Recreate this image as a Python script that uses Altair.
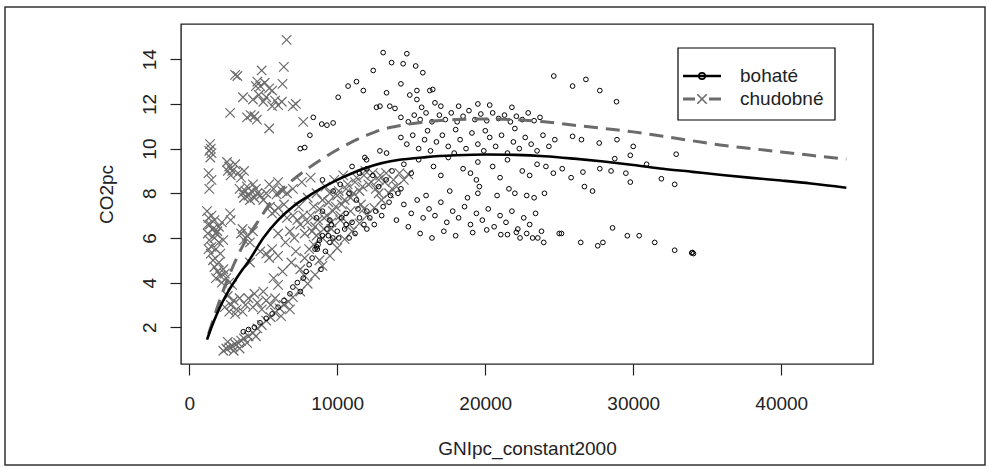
import altair as alt
import pandas as pd

# ---------------- data ----------------
# chudobné (poor) observations: GNI per capita, CO2 per capita
poor_x = [6575, 6390, 3100, 3250, 4890, 4600, 4800, 5100, 5400, 4700, 5200, 5600, 5800, 6000, 5600, 6250, 3630, 2760, 3900, 4150,
          4400, 4570, 5400, 7000, 7200, 7700, 4500, 5000, 6300, 4300,
          1400, 1450, 1350, 1500, 1420, 1300, 1350, 1500,
          2550, 2700, 2900, 3100, 3300, 3500, 2800, 3700, 2600,
          3400, 3600, 3800, 4000, 4200, 4400, 4600, 4800, 5000, 5200, 3900, 4300, 4100, 3700, 4500,
          5400, 5700, 6000, 6300, 6600, 5900, 5450, 5800, 6000, 5600,
          1200, 1300, 1400, 1500, 1600, 1250, 1350, 1500, 1700, 1800, 1900, 2000, 2100, 2200, 1450, 1600, 1250, 1700, 1800, 2000,
          1300, 2300, 2750, 2800,
          3500, 3700, 3900, 4100, 3600, 4300,
          1700, 1900, 2100, 2300, 2500, 2700, 2900, 2000, 2400, 1800, 2200, 4100,
          4800, 5200, 5600, 6000, 5400, 5700, 6000,
          2600, 2800, 3000, 3200, 3400, 3600, 3800, 3100, 2700, 2400,
          4000, 4300, 4600, 4900, 5200, 5500, 5800, 4400, 5000,
          2300, 2500, 2700, 2900, 3100, 3300, 3500, 3700, 4000, 4300, 4600, 4900, 5200, 5500, 5800, 6100, 6400, 6700, 7000,
          2600, 3000, 3400, 3900, 4500, 6200, 6800,
          7500, 8000, 8500, 9000, 9500, 10000, 10500, 11000, 11500, 12000, 12500, 13000, 13500, 14000, 14500, 14800,
          7800, 8800, 9800, 10800, 11800, 12800, 13800,
          6500, 6800, 7100, 7500, 7800, 8200, 8500, 8800, 9100, 9400, 9700, 10000, 10300, 10600, 10900, 11200, 11500, 11800,
          12100, 12400, 12800, 7000, 7400, 8000, 8600, 9200, 9800, 10400, 6600, 7200, 7800, 8400, 9000, 9600, 10200,
          6300, 6900, 7500, 8100, 6000, 6400, 7000, 7600, 8200,
          8300, 8700, 9300, 9900, 10500, 11100, 11700, 12300, 12900, 13300, 8000, 9500, 10100, 10700, 11300, 11900,
          9000, 8400, 7700, 7300, 12600, 13200, 13700, 14200, 11600, 10900, 10200, 9600, 9100, 8600]
poor_y = [14.87, 13.66, 13.3, 13.25, 13.5, 13.0, 12.8, 12.95, 12.7, 12.4, 12.3, 12.6, 12.15, 11.95, 11.9, 12.1, 12.3, 11.6, 11.4, 11.5,
          11.45, 11.3, 10.9, 11.9, 12.0, 11.2, 12.8, 12.1, 12.9, 12.2,
          10.2, 10.0, 9.9, 9.8, 9.6, 8.9, 8.2, 8.6,
          9.4, 9.2, 9.0, 9.3, 8.9, 8.7, 8.8, 9.0, 9.0,
          8.2, 8.0, 8.1, 7.9, 8.1, 7.8, 8.0, 7.9, 7.7, 8.0, 8.3, 8.4, 7.7, 7.8, 8.2,
          8.4, 8.2, 8.5, 8.1, 8.0, 7.95, 7.4, 7.2, 7.35, 7.1,
          7.2, 6.9, 6.6, 7.0, 6.4, 6.2, 5.9, 5.6, 6.0, 5.5, 6.3, 5.8, 5.3, 6.7, 5.3, 5.0, 6.6, 6.8, 6.2, 6.5,
          5.5, 5.9, 7.1, 6.8,
          6.2, 5.9, 6.1, 5.8, 6.4, 6.3,
          4.7, 4.5, 4.3, 4.6, 4.2, 4.0, 3.9, 4.9, 4.4, 4.2, 4.0, 4.9,
          5.4, 5.3, 5.5, 5.2, 5.1, 4.2, 3.9,
          3.4, 3.0, 3.2, 2.8, 3.3, 2.7, 3.0, 2.6, 2.7, 2.9,
          3.3, 2.9, 3.1, 2.8, 3.2, 3.0, 3.3, 3.5, 3.6,
          0.95, 1.05, 1.1, 1.15, 1.25, 1.3, 1.4, 1.5, 1.6, 1.75, 1.95, 2.1, 2.3, 2.45, 2.65, 2.85, 3.0, 3.15, 3.35,
          1.35, 0.95, 1.05, 1.3, 1.6, 2.5, 2.8,
          3.6, 3.95, 4.35, 4.75, 5.2, 5.55, 5.95, 6.3, 6.65, 7.0, 7.35, 7.7, 8.0, 8.3, 8.6, 8.85,
          4.3, 5.0, 5.9, 6.6, 7.3, 8.0, 8.6,
          5.8, 6.3, 6.0, 6.6, 6.2, 7.0, 6.5, 7.3, 6.9, 7.6, 7.2, 7.9, 7.5, 8.2, 7.8, 8.5, 8.1, 8.8,
          8.4, 8.9, 8.6, 7.0, 7.4, 7.8, 8.0, 8.3, 8.6, 8.8, 6.9, 5.4, 5.1, 5.7, 6.0, 6.4, 6.8,
          4.5, 4.9, 4.6, 5.5, 6.2, 7.5, 8.2, 8.5, 8.7,
          6.3, 6.8, 7.0, 7.4, 7.7, 8.0, 8.3, 8.5, 8.8, 8.9, 6.7, 8.0, 8.1, 8.4, 8.7, 9.0,
          7.7, 7.4, 7.0, 6.8, 8.2, 8.5, 8.2, 8.9, 7.5, 7.2, 7.0, 6.7, 6.4, 6.1]

# bohaté (rich) observations
rich_x = [13100, 13670, 12430, 11300, 10730, 10060, 11760, 13330, 12650, 12880, 13550, 13900, 8380, 8950, 9300, 9720, 8150, 7500,
          7800, 11980, 12880, 13330,
          14700, 14450, 15300, 15780, 24630, 26800, 25900, 27740, 28870, 16250, 16450, 15380, 15380, 14900, 14300,
          14300, 14800, 15200, 15600, 16000, 16400, 16900, 17300, 17700, 18100, 18500, 18900, 19300, 19700, 20100, 20500,
          20900, 21300, 21700, 22100, 22500, 22900, 23300, 23700, 17000, 18200, 19500, 20300, 21800, 15700, 16600,
          14300, 14700, 15100, 15500, 15900, 16300, 16700, 17100, 17500, 17900, 18300, 18700, 19100, 19500, 19900, 20300,
          20700, 21100, 21500, 21900, 22300, 22700, 23100, 23500, 23900, 24300, 24700, 16100, 18000, 20000, 22000,
          25900, 26500, 27700, 28900, 30000, 32900, 29800, 28750, 30900, 27740, 28500, 29500, 26600, 29800, 31900, 32800,
          25800, 26700, 27250, 24100, 24600, 25200,
          14500, 15500, 16500, 17500, 18500, 19500, 20500, 21500, 22500, 23500, 15000, 17000, 19000, 21000, 23000,
          19400, 19600, 19500, 22000, 22800, 23300, 24000, 14500, 15000, 15400, 15800, 16200, 16600, 17000, 17400, 17800,
          18200, 18600, 19000, 19400, 19800, 20200, 20600, 21000, 21400, 21800, 22200, 22600, 23000, 23400, 23800, 25000,
          28600, 14800, 15600, 16400, 17200, 18000, 16000, 17600, 18800, 20800, 21600, 14300, 13500, 13000, 12500, 14000,
          19150, 20100, 21050, 21500, 22100, 22350, 22800, 23200, 23550, 23950, 25150, 26450, 27600, 27950, 29600, 30400,
          31450, 32800, 33950, 34070, 34000,
          3650, 4000, 4400, 4780, 5200, 5600, 6000, 6400, 6800, 7000, 7300, 7500, 7700, 7900, 8100, 8300, 8500, 8600, 8700,
          8650, 8800, 9000, 8900, 9300, 9600, 10000, 10300, 10600, 11000, 11500, 12000, 12000, 10800, 9500,
          9720, 8600, 9000, 9500, 11860, 11000, 11500, 12000, 12400, 9000, 10200, 10800, 11300, 12800, 13300, 13700,
          9200, 9700, 10100, 10500, 11200, 11800, 12200, 12600, 13100, 13600, 14100, 9400, 10600, 11400]
rich_y = [14.3, 13.85, 13.5, 13.0, 12.8, 12.3, 12.6, 12.5, 11.85, 11.9, 11.9, 11.8, 11.4, 11.1, 11.05, 11.15, 10.6, 10.0,
          10.05, 9.5, 9.9, 9.8,
          14.25, 13.8, 13.7, 13.4, 13.25, 13.1, 12.8, 12.6, 12.1, 12.6, 12.65, 12.6, 12.2, 12.4, 12.9,
          11.4, 11.2, 11.5, 11.3, 11.6, 11.2, 11.5, 11.3, 11.6, 11.2, 11.45, 11.7, 11.3, 11.55, 11.25, 11.6,
          11.35, 11.5, 11.2, 11.45, 11.3, 11.6, 11.25, 11.4, 11.9, 11.9, 12.0, 11.95, 11.85, 11.85, 12.05,
          10.5, 10.2, 10.6, 10.0, 10.4, 9.9, 10.3, 10.6, 10.1, 9.8, 10.4, 10.0, 10.7, 10.2, 9.9, 10.5,
          10.1, 10.6, 9.8, 10.3, 10.0, 10.5, 10.2, 9.9, 10.6, 10.1, 10.4, 10.8, 10.85, 10.8, 10.9,
          10.55, 10.4, 10.25, 10.4, 10.1, 9.75, 9.7, 9.55, 9.3, 9.1, 9.0, 8.9, 8.95, 8.5, 8.65, 8.4,
          8.7, 8.3, 8.1, 9.2, 8.9, 9.1,
          9.3, 9.5, 9.2, 9.6, 9.1, 9.4, 9.2, 9.5, 9.0, 9.3, 8.9, 8.8, 8.9, 8.7, 8.8,
          8.6, 8.3, 8.0, 8.0, 7.9, 7.8, 8.0, 7.5, 7.1, 7.7, 6.9, 7.3, 7.0, 7.6, 6.7, 7.2,
          6.9, 7.4, 6.6, 7.1, 6.8, 7.3, 6.5, 7.0, 6.7, 7.2, 6.4, 6.9, 6.6, 7.1, 6.3, 6.2,
          6.45, 6.5, 6.2, 6.0, 6.3, 6.1, 7.9, 8.1, 7.8, 7.9, 8.2, 8.2, 7.6, 7.0, 6.6, 6.8,
          6.24, 6.36, 6.15, 6.15, 6.25, 6.0, 6.2, 6.0, 6.0, 5.8, 6.2, 5.8, 5.65, 5.8, 6.1, 6.1,
          5.8, 5.45, 5.33, 5.3, 5.35,
          1.8, 1.9, 2.0, 2.2, 2.4, 2.6, 2.9, 3.2, 3.5, 3.8, 4.0, 3.6, 4.2, 4.5, 4.8, 5.1, 5.5, 5.6, 5.7,
          5.5, 5.9, 6.1, 4.6, 6.4, 6.6, 6.3, 6.9, 7.1, 6.7, 6.9, 6.4, 7.2, 6.0, 5.8,
          8.1, 6.9, 7.2, 6.8, 9.6, 9.2, 8.9, 9.1, 8.8, 8.6, 8.4, 8.0, 7.7, 8.3, 8.6, 9.0,
          5.4, 6.0, 6.0, 6.4, 6.2, 6.6, 6.9, 7.2, 7.4, 7.9, 8.0, 6.1, 6.6, 7.3]

# fitted curves
fit_rich_x = [1200, 1500, 2000, 2500, 3000, 3500, 4000, 5000, 6000, 7000, 8000, 9000, 10000, 11000, 12000, 13000, 14000,
              16000, 18000, 20000, 22000, 24000, 26000, 28000, 30000, 32000, 34000, 36000, 38000, 40000, 42000, 44400]
fit_rich_y = [1.45, 2.0, 2.8, 3.45, 4.0, 4.5, 4.95, 6.0, 6.8, 7.4, 7.85, 8.25, 8.6, 8.9, 9.15, 9.35, 9.48,
              9.62, 9.7, 9.74, 9.72, 9.66, 9.55, 9.42, 9.27, 9.1, 8.96, 8.82, 8.69, 8.57, 8.44, 8.25]
fit_poor_x = [1300, 1500, 2000, 2500, 3000, 3500, 4000, 4500, 5000, 5500, 6000, 7000, 8000, 9000, 10000, 11000, 12000,
              13000, 14000, 16000, 18000, 20000, 22000, 24000, 26000, 28000, 30000, 32000, 34000, 36000, 38000, 40000,
              42000, 44400]
fit_poor_y = [1.7, 2.1, 3.1, 4.0, 4.8, 5.5, 6.1, 6.6, 7.1, 7.6, 8.0, 8.6, 9.1, 9.55, 9.95, 10.3, 10.6,
              10.85, 11.0, 11.2, 11.3, 11.33, 11.3, 11.2, 11.05, 10.9, 10.75, 10.55, 10.35, 10.15, 10.0, 9.85,
              9.7, 9.53]

x_ticks = [0, 10000, 20000, 30000, 40000]
y_ticks = [2, 4, 6, 8, 10, 12, 14]
legend_labels = ["bohaté", "chudobné"]

# ---------------- chart ----------------
GRAY = "#6b6b6b"
FONT = "Liberation Sans"
W, H = 692, 340

poor_df = pd.DataFrame({"GNIpc_constant2000": poor_x, "CO2pc": poor_y})
rich_df = pd.DataFrame({"GNIpc_constant2000": rich_x, "CO2pc": rich_y})
fit_rich_df = pd.DataFrame({"GNIpc_constant2000": fit_rich_x, "CO2pc": fit_rich_y})
fit_poor_df = pd.DataFrame({"GNIpc_constant2000": fit_poor_x, "CO2pc": fit_poor_y})

xs = alt.Scale(domain=[-560, 46200], nice=False, zero=False)
ys = alt.Scale(domain=[0.356, 15.58], nice=False, zero=False)

X = alt.X("GNIpc_constant2000:Q", scale=xs,
          axis=alt.Axis(values=x_ticks, format="d", title="GNIpc_constant2000", labelPadding=19, titlePadding=26))
Y = alt.Y("CO2pc:Q", scale=ys,
          axis=alt.Axis(values=y_ticks, format="d", title="CO2pc", labelAngle=270, labelAlign="center",
                        labelBaseline="alphabetic", labelPadding=15, titlePadding=24))

leg_df = pd.DataFrame({"label": legend_labels})

frame = alt.Chart(leg_df.head(1)).mark_rect(fill="white", fillOpacity=0, stroke="#333333", strokeWidth=1.5).encode(
    x=alt.value(-176), x2=alt.value(804), y=alt.value(-17), y2=alt.value(441))

crosses = alt.Chart(poor_df).mark_point(shape="M-1,-1L1,1M1,-1L-1,1", size=90, filled=False,
                                        stroke=GRAY, strokeWidth=1.2, opacity=1).encode(x=X, y=Y)
circles = alt.Chart(rich_df).mark_point(shape="circle", size=22, filled=False,
                                        stroke="black", strokeWidth=1, opacity=1).encode(x=X, y=Y)
line_rich = alt.Chart(fit_rich_df).mark_line(color="black", strokeWidth=2.6, interpolate="monotone").encode(x=X, y=Y)
line_poor = alt.Chart(fit_poor_df).mark_line(color=GRAY, strokeWidth=3, strokeDash=[14, 8],
                                             interpolate="monotone").encode(x=X, y=Y)

leg_box = alt.Chart(leg_df.head(1)).mark_rect(fill="white", stroke="black", strokeWidth=1.2).encode(
    x=alt.value(497), x2=alt.value(654), y=alt.value(24), y2=alt.value(96))
leg_line1 = alt.Chart(leg_df.head(1)).mark_rule(color="black", strokeWidth=2.6).encode(
    x=alt.value(502), x2=alt.value(540), y=alt.value(52))
leg_line2 = alt.Chart(leg_df.head(1)).mark_rule(color=GRAY, strokeWidth=3, strokeDash=[12, 14]).encode(
    x=alt.value(502), x2=alt.value(540), y=alt.value(75))
leg_pt1 = alt.Chart(leg_df.head(1)).mark_point(shape="circle", size=40, filled=False, stroke="black",
                                               strokeWidth=1.6, opacity=1).encode(x=alt.value(521), y=alt.value(52))
leg_pt2 = alt.Chart(leg_df.head(1)).mark_point(shape="M-1,-1L1,1M1,-1L-1,1", size=90, filled=False, stroke=GRAY,
                                               strokeWidth=1.6, opacity=1).encode(x=alt.value(521), y=alt.value(75))
leg_t1 = alt.Chart(leg_df.iloc[[0]]).mark_text(align="left", baseline="middle", font=FONT, fontSize=19,
                                              color="#222222").encode(x=alt.value(559), y=alt.value(52), text="label:N")
leg_t2 = alt.Chart(leg_df.iloc[[1]]).mark_text(align="left", baseline="middle", font=FONT, fontSize=19,
                                              color="#222222").encode(x=alt.value(559), y=alt.value(75), text="label:N")

chart = alt.layer(frame, crosses, circles, line_poor, line_rich,
                  leg_box, leg_line1, leg_line2, leg_pt1, leg_pt2, leg_t1, leg_t2).properties(
    width=W, height=H,
    autosize=alt.AutoSizeParams(type="none"),
    padding={"left": 181, "top": 24, "right": 114, "bottom": 104},
    background="white",
).configure_view(stroke="#222222", strokeWidth=1.4).configure_axis(
    domain=False, grid=False, ticks=True, tickSize=11, tickWidth=1.2, tickColor="#222222",
    labelFont=FONT, labelFontSize=19, labelColor="#222222",
    titleFont=FONT, titleFontSize=19, titleFontWeight="normal", titleColor="#222222",
)

chart.save("out.html", embed_options={"renderer": "svg", "actions": False})
